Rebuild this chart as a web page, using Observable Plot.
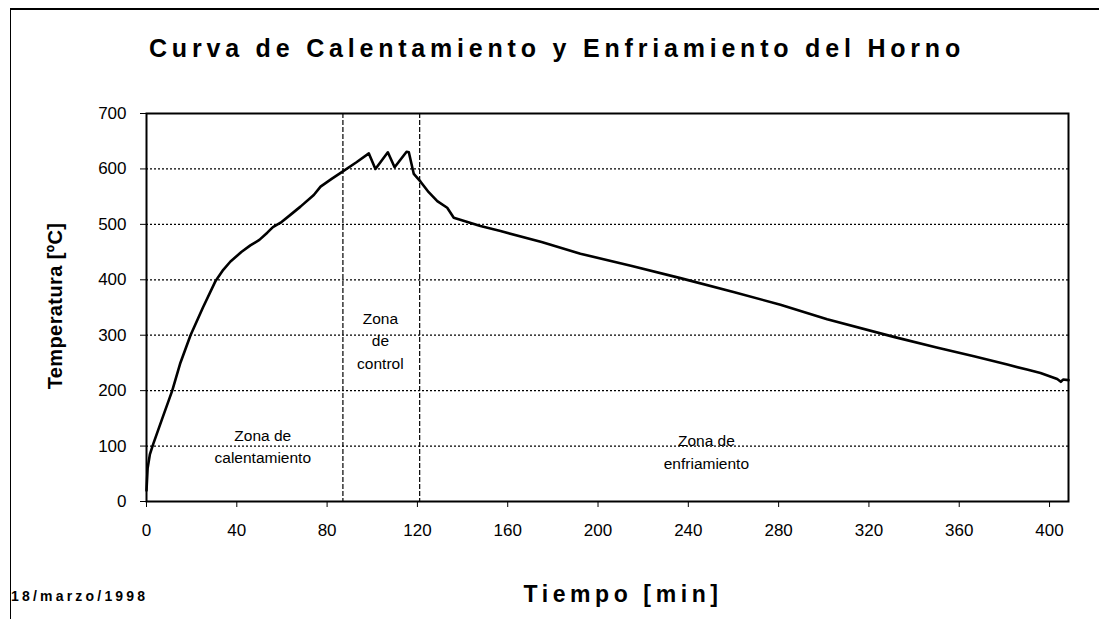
<!DOCTYPE html>
<html>
<head>
<meta charset="utf-8">
<script src="https://cdn.jsdelivr.net/npm/d3@7"></script>
<script src="https://cdn.jsdelivr.net/npm/@observablehq/plot@0.6"></script>
<style>
  html, body { margin: 0; padding: 0; background: #fff; }
  #wrap { position: relative; width: 1099px; height: 619px; overflow: hidden; font-family: "Liberation Sans", Arial, sans-serif; }
  #border { position: absolute; left: 10px; top: 8px; width: 1089px; height: 611px; border-left: 1px solid #000; border-top: 2px solid #000; box-sizing: border-box; }
  #title { position: absolute; left: 0; width: 1114px; top: 34px; text-align: center; font-weight: bold; font-size: 25px; letter-spacing: 4.8px; color: #000; white-space: nowrap; }
  #ytitle { position: absolute; left: 55px; top: 306px; transform: translate(-50%, -50%) rotate(-90deg); font-weight: bold; font-size: 20px; letter-spacing: 0.4px; white-space: nowrap; }
  #xtitle { position: absolute; left: 623px; top: 581px; transform: translateX(-50%); font-weight: bold; font-size: 23px; letter-spacing: 4.6px; white-space: nowrap; }
  #date { position: absolute; left: 11px; top: 588px; font-weight: bold; font-size: 14px; letter-spacing: 3.2px; white-space: nowrap; }
  #chart { position: absolute; left: 0; top: 0; }
</style>
</head>
<body>
<div id="wrap">
  <div id="chart"></div>
  <div id="border"></div>
  <div id="title">Curva de Calentamiento y Enfriamiento del Horno</div>
  <div id="ytitle">Temperatura [ºC]</div>
  <div id="xtitle">Tiempo [min]</div>
  <div id="date">18/marzo/1998</div>
</div>
<script>
// Time [min]
const times = [0, 0.5, 1.5, 3, 7, 11.4, 15, 19.5, 25, 30.6, 34, 37.2, 42, 46, 50, 53.5, 56, 59.4, 64, 68.2, 74.1, 77.1, 82, 86, 93, 98.5, 101.4, 106.9, 109.9, 115.2, 116.2, 118.4, 121.4, 125, 128.8, 133.2, 136.1, 147.9, 156.8, 175, 192.2, 215, 236.5, 260, 280.8, 301.5, 331, 350, 366.5, 381.3, 390, 396, 403.4, 405, 406, 408.4];
// Temperature [ºC]
const temps = [20, 60, 85, 104, 150, 200, 250, 300, 350, 398, 418, 433, 450, 462, 472, 485, 495, 503, 518, 532, 553, 568, 582, 593, 612, 628, 600, 630, 603, 631, 630, 591, 577, 558, 542, 530, 512, 497, 488, 468, 447, 425, 403, 378, 355, 329, 297, 278, 262, 247, 238, 232, 221, 216, 220, 219];

const xTicks = [0, 40, 80, 120, 160, 200, 240, 280, 320, 360, 400];
const yTicks = [0, 100, 200, 300, 400, 500, 600, 700];
const gridLevels = [100, 200, 300, 400, 500, 600];
const zoneBounds = [87, 121];

const zoneLabelText = ["Zona de\ncalentamiento", "Zona\nde\ncontrol", "Zona de\nenfriamiento"];
const zoneLabelTime = [51.5, 103.6, 248];
const zoneLabelTemp = [102, 293, 92];

const curve = times.map((t, i) => ({t, T: temps[i]}));
const labels = zoneLabelText.map((s, i) => ({s, t: zoneLabelTime[i], T: zoneLabelTemp[i]}));

const chart = Plot.plot({
  width: 1099,
  height: 560,
  marginLeft: 146,
  marginRight: 31,
  marginTop: 113,
  marginBottom: 59,
  style: {fontFamily: "'Liberation Sans', Arial, sans-serif", fontSize: "17px", color: "#000", background: "transparent"},
  x: {domain: [0, 408.4]},
  y: {domain: [0, 700]},
  marks: [
    Plot.ruleY(gridLevels, {stroke: "#000", strokeWidth: 1.2, strokeDasharray: "2,2"}),
    Plot.ruleX(zoneBounds, {stroke: "#000", strokeWidth: 1.2, strokeDasharray: "5,2"}),
    Plot.text(labels, {x: "t", y: "T", text: "s", fontSize: 15.5, lineHeight: 1.45, fill: "#000", textAnchor: "middle"}),
    Plot.line(curve, {x: "t", y: "T", stroke: "#000", strokeWidth: 2.6, strokeLinejoin: "round"}),
    Plot.frame({stroke: "#000", strokeWidth: 2}),
    Plot.axisX({ticks: xTicks, tickSize: 6, tickPadding: 16, label: null, tickFormat: d => d}),
    Plot.axisY({ticks: yTicks, tickSize: 6, tickPadding: 14, label: null, tickFormat: d => d})
  ]
});
document.getElementById("chart").appendChild(chart);
</script>
</body>
</html>
